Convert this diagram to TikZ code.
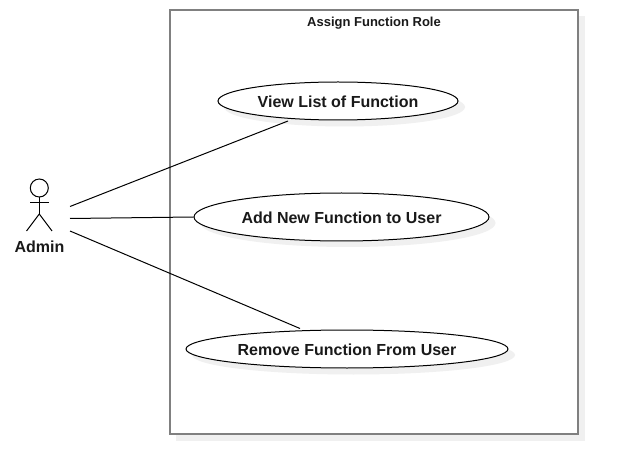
\documentclass[tikz,border=0pt]{standalone}
\usepackage{fontspec}
\setmainfont{Liberation Sans}
\usetikzlibrary{shapes.geometric}
\tikzset{
  px/.style={x=0.75pt,y=-0.75pt},
  usecase/.style={ellipse,draw=black,line width=0.75pt,fill=white,inner sep=0pt},
  caselabel/.style={font=\bfseries\fontsize{12}{14}\selectfont,text=black!90},
  casebody/.style={fill=black!6},
  sysbox/.style={draw=black!50,line width=1.5pt,fill=white},
  link/.style={draw=black,line width=0.75pt},
  stick/.style={draw=black,line width=0.75pt}
}
\begin{document}
\begin{tikzpicture}[px]
\useasboundingbox (0,0) rectangle (618,474);
% system boundary
\fill[black!6] (176,16) rectangle (585,441);
\draw[sysbox] (170,10) rectangle (578,434);
\node[font=\bfseries\fontsize{9.75}{11}\selectfont,text=black!90] (title) at (374,23.5) {Assign Function Role};
% use case shadows
\fill[casebody] (344.5,107) ellipse [x radius=120.5,y radius=19.5];
\fill[casebody] (348,223) ellipse [x radius=147.5,y radius=24];
\fill[casebody] (353.5,355) ellipse [x radius=161.5,y radius=19.5];
% use cases
\node[usecase,minimum width=180pt,minimum height=28.5pt] (view) at (338,101) {};
\node[usecase,minimum width=221.25pt,minimum height=36pt] (add) at (341.5,217) {};
\node[usecase,minimum width=241.5pt,minimum height=28.5pt] (remove) at (347,349) {};
\node[caselabel] (viewt) at (338,101.5) {View List of Function};
\node[caselabel] (addt) at (341.5,217.5) {Add New Function to User};
\node[caselabel] (removet) at (347,349.5) {Remove Function From User};
% actor
\node[circle,stick,minimum size=13.5pt,inner sep=0pt] (head) at (39.3,188) {};
\coordinate (hip) at (39.3,214);
\coordinate (armL) at (30,203);
\coordinate (armR) at (49,203);
\coordinate (legL) at (26.5,231);
\coordinate (legR) at (52,231);
\draw[stick] (head.south) -- (hip);
\draw[stick] (armL) -- (armR);
\draw[stick] (legL) -- (hip) -- (legR);
\node[font=\bfseries\fontsize{12}{14}\selectfont,text=black!90] (admin) at (39.5,246.5) {Admin};
% connectors
\coordinate (a1) at (70,206.5);
\coordinate (a2) at (70,218.5);
\coordinate (a3) at (70,231);
\coordinate (v1) at (288,121);
\coordinate (r1) at (300,328.5);
\draw[link] (a1) -- (v1);
\draw[link] (a2) -- (add.west);
\draw[link] (a3) -- (r1);
\end{tikzpicture}
\end{document}
